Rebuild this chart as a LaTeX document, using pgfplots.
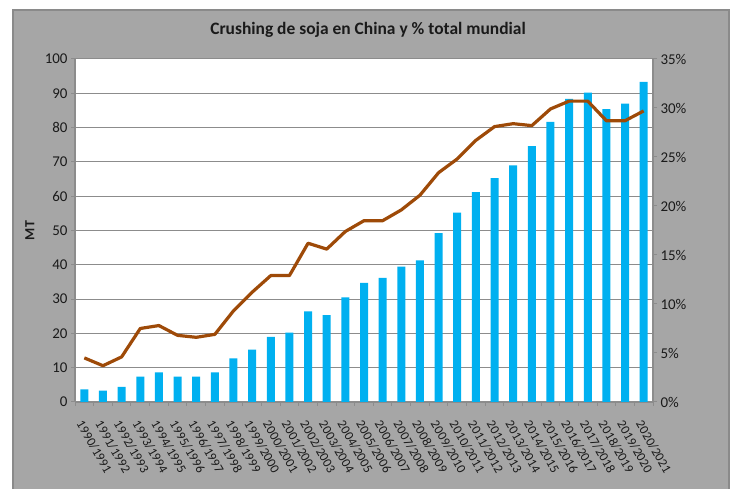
\documentclass[border=0pt]{standalone}
\usepackage{fontspec}
\setmainfont{Carlito}
\usepackage{pgfplots}
\pgfplotsset{compat=1.18}
\definecolor{panel}{HTML}{A6A6A6}
\definecolor{panelborder}{HTML}{8A8A8A}
\definecolor{gridc}{HTML}{8C8C8C}
\definecolor{barc}{HTML}{00B0F0}
\definecolor{linec}{HTML}{9E4A08}
\definecolor{txt}{HTML}{1A1A1A}
\begin{document}
\begin{tikzpicture}[x=1bp,y=1bp]
\path[use as bounding box] (0,0) rectangle (735,489);
\fill[white] (0,0) rectangle (735,489);
\filldraw[fill=panel, draw=panelborder, line width=1.2bp] (13,-2) rectangle (729,479);
\node[font=\fontsize{17.5}{17.5}\selectfont\bfseries, text=txt] at (368,459) {Crushing de soja en China y \% total mundial};
\begin{axis}[
  at={(75bp,87bp)}, anchor=south west,
  width=578bp, height=343bp, scale only axis,
  xmin=-0.5, xmax=30.5, ymin=0, ymax=100,
  ytick={0,10,...,100},
  xtick={0,...,30},
  xticklabels={1990/1991,1991/1992,1992/1993,1993/1994,1994/1995,1995/1996,1996/1997,1997/1998,1998/1999,1999/2000,2000/2001,2001/2002,2002/2003,2003/2004,2004/2005,2005/2006,2006/2007,2007/2008,2008/2009,2009/2010,2010/2011,2011/2012,2012/2013,2013/2014,2014/2015,2015/2016,2016/2017,2017/2018,2018/2019,2019/2020,2020/2021},
  minor xtick={-0.5,0.5,...,30.5},
  major x tick style={draw=none},
  minor x tick style={draw=gridc, line width=1bp},
  minor tick length=4bp, major tick length=4bp,
  tick align=outside,
  ytick style={draw=gridc, line width=1bp},
  axis x line*=bottom, axis y line*=left,
  axis line style={gridc, line width=1.3bp},
  axis background/.style={fill=white},
  ymajorgrids, major grid style={gridc, line width=1bp},
  /pgf/number format/assume math mode=true,
  yticklabel style={font=\fontsize{15}{15}\selectfont, text=txt},
  xticklabel style={font=\fontsize{13}{13}\selectfont, text=txt, inner sep=0.8bp, xshift=-5bp, yshift=-15bp, rotate=-60, anchor=west},
  ylabel={MT},
  every axis y label/.style={at={(axis description cs:-0.078,0.5)}, rotate=90, anchor=center, font=\fontsize{14}{14}\selectfont\bfseries, text=txt},
  clip=false,
]
\addplot[ybar, bar width=8bp, fill=barc, draw=none] coordinates {
(0,3.7) (1,3.3) (2,4.4) (3,7.4) (4,8.6) (5,7.4) (6,7.4) (7,8.6) (8,12.7) (9,15.3)
(10,19.0) (11,20.2) (12,26.4) (13,25.3) (14,30.5) (15,34.7) (16,36.2) (17,39.5) (18,41.3) (19,49.2)
(20,55.2) (21,61.2) (22,65.3) (23,69.0) (24,74.6) (25,81.7) (26,88.4) (27,90.2) (28,85.4) (29,87.0) (30,93.3)};
\end{axis}
\begin{axis}[
  at={(75bp,87bp)}, anchor=south west,
  width=578bp, height=343bp, scale only axis,
  xmin=-0.5, xmax=30.5, ymin=0, ymax=35,
  axis x line=none, axis y line*=right,
  ytick={0,5,...,35},
  yticklabel={\pgfmathprintnumber{\tick}\%},
  tick align=outside, major tick length=4bp,
  ytick style={draw=gridc, line width=1bp},
  axis line style={gridc, line width=1.3bp},
  /pgf/number format/assume math mode=true,
  yticklabel style={font=\fontsize{15}{15}\selectfont, text=txt},
]
\addplot[linec, line width=3.2bp, line join=round] coordinates {
(0,4.5) (1,3.7) (2,4.6) (3,7.5) (4,7.8) (5,6.8) (6,6.6) (7,6.9) (8,9.3) (9,11.2)
(10,12.9) (11,12.9) (12,16.2) (13,15.6) (14,17.4) (15,18.5) (16,18.5) (17,19.6) (18,21.1) (19,23.4)
(20,24.8) (21,26.7) (22,28.1) (23,28.4) (24,28.2) (25,29.9) (26,30.7) (27,30.7) (28,28.7) (29,28.7) (30,29.7)};
\end{axis}
\end{tikzpicture}
\end{document}
